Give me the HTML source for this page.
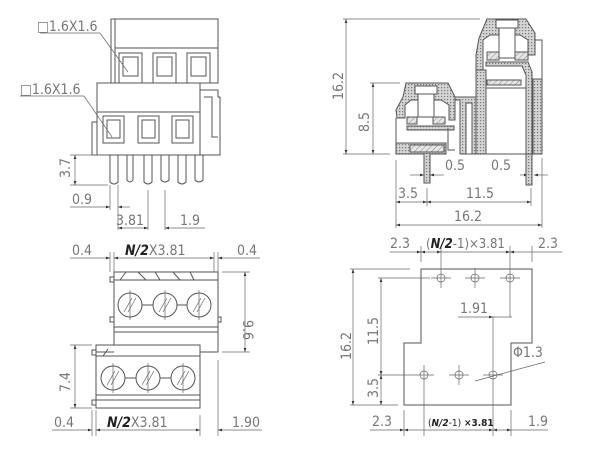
<!DOCTYPE html>
<html><head><meta charset="utf-8"><style>
html,body{margin:0;padding:0;background:#fff}
svg{display:block}
text{font-family:"DejaVu Sans Condensed","Liberation Sans",sans-serif;fill:#777;font-size:14px}
.l{stroke:#555;stroke-width:1;fill:none}
.t{stroke:#666;stroke-width:0.7;fill:none}
</style></head><body>
<svg width="600" height="450" viewBox="0 0 600 450" xmlns="http://www.w3.org/2000/svg">
<defs>
<pattern id="d" width="3" height="3" patternUnits="userSpaceOnUse"><rect width="3" height="3" fill="#d4d4d4"/><rect width="1.2" height="1.2" fill="#777"/></pattern>
<pattern id="h" width="4" height="4" patternUnits="userSpaceOnUse" patternTransform="rotate(45)"><rect width="4" height="4" fill="#e6e6e6"/><line x1="0" y1="0" x2="0" y2="4" stroke="#888" stroke-width="1"/></pattern>
<marker id="a" markerWidth="6" markerHeight="4" refX="6" refY="2" orient="auto-start-reverse"><path d="M0,0L6,2L0,4z" fill="#333"/></marker>
</defs>

<g class="l">
<rect x="111" y="19" width="107" height="64"/>
<line x1="115" y1="19" x2="115" y2="83"/>
<line x1="115" y1="48" x2="218" y2="48"/>
<rect x="119" y="53" width="23" height="30"/><rect x="123" y="57" width="15" height="19"/>
<rect x="153" y="53" width="23" height="30"/><rect x="157" y="57" width="15" height="19"/>
<rect x="187" y="53" width="23" height="30"/><rect x="191" y="57" width="15" height="19"/>
<rect x="97" y="83" width="103" height="72" fill="#fff"/>
<line x1="97" y1="112" x2="200" y2="112"/>
<path d="M97,122H92V155H97"/>
<rect x="103" y="116" width="21" height="27"/><rect x="107" y="120" width="13" height="18"/>
<rect x="138" y="116" width="21" height="27"/><rect x="142" y="120" width="13" height="18"/>
<rect x="172" y="116" width="21" height="27"/><rect x="176" y="120" width="13" height="18"/>
<path d="M200,90H218V97H220V155H200"/>
<path d="M204,97H212V137H218"/>
<path d="M110,155V182Q114,186 118,182V155"/><path d="M127,155V180Q130,184 133,180V155"/>
<path d="M144,155V182Q148,186 152,182V155"/><path d="M161,155V180Q165,184 169,180V155"/>
<path d="M178,155V182Q182,186 186,182V155"/><path d="M195,155V180Q199,184 203,180V155"/>
</g>
<g class="t">
<line x1="40" y1="33" x2="100" y2="33"/><line x1="100" y1="33" x2="128" y2="72"/>
<line x1="20" y1="96" x2="84" y2="96"/><line x1="84" y1="96" x2="112" y2="137"/>
<line x1="70" y1="155" x2="108" y2="155"/><line x1="70" y1="185" x2="108" y2="185"/>
<line x1="75" y1="155" x2="75" y2="185" marker-start="url(#a)" marker-end="url(#a)"/>
<line x1="70" y1="207" x2="110" y2="207" marker-end="url(#a)"/><line x1="118" y1="207" x2="130" y2="207" marker-start="url(#a)"/>
<line x1="110" y1="185" x2="110" y2="210"/><line x1="118" y1="185" x2="118" y2="230"/>
<line x1="148" y1="190" x2="148" y2="230"/><line x1="165" y1="190" x2="165" y2="230"/>
<line x1="118" y1="228" x2="148" y2="228" marker-start="url(#a)" marker-end="url(#a)"/>
<line x1="165" y1="228" x2="205" y2="228" marker-start="url(#a)"/>
</g>
<text x="37" y="31">□1.6X1.6</text>
<text x="20" y="94">□1.6X1.6</text>
<text x="0" y="0" transform="translate(70,178) rotate(-90)">3.7</text>
<text x="72" y="204">0.9</text>
<text x="116" y="225">3.81</text>
<text x="180" y="225">1.9</text>

<g class="t">
<line x1="343" y1="19" x2="480" y2="19"/><line x1="343" y1="154" x2="390" y2="154"/>
<line x1="370" y1="83" x2="400" y2="83"/>
<line x1="346" y1="19" x2="346" y2="154" marker-start="url(#a)" marker-end="url(#a)"/>
<line x1="373" y1="83" x2="373" y2="154" marker-start="url(#a)" marker-end="url(#a)"/>
<line x1="396" y1="160" x2="396" y2="228"/><line x1="427" y1="188" x2="427" y2="206"/>
<line x1="531" y1="188" x2="531" y2="206"/><line x1="542" y1="158" x2="542" y2="228"/>
<line x1="410" y1="175" x2="424" y2="175" marker-end="url(#a)"/><line x1="430" y1="175" x2="444" y2="175" marker-start="url(#a)"/>
<line x1="520" y1="175" x2="528" y2="175" marker-end="url(#a)"/><line x1="534" y1="175" x2="548" y2="175" marker-start="url(#a)"/>
<line x1="396" y1="202" x2="427" y2="202" marker-start="url(#a)" marker-end="url(#a)"/>
<line x1="427" y1="202" x2="531" y2="202" marker-start="url(#a)" marker-end="url(#a)"/>
<line x1="396" y1="225" x2="542" y2="225" marker-start="url(#a)" marker-end="url(#a)"/>
</g>
<g class="l">
<path d="M406,83H448L455,97V120H449V105L441,100H411L405,105V118H397L396,110L403,97Z" fill="url(#d)"/>
<rect x="415" y="86" width="22" height="8" fill="#fff"/>
<rect x="418" y="94" width="16" height="23" fill="#fff"/>
<rect x="407" y="117" width="10" height="7" fill="url(#h)"/><rect x="433" y="117" width="12" height="7" fill="url(#h)"/>
<rect x="407" y="126" width="47" height="4" fill="url(#d)"/>
<rect x="396" y="143" width="50" height="11" fill="url(#d)"/><rect x="410" y="145" width="34" height="7" fill="url(#h)"/>
<line x1="396" y1="118" x2="396" y2="154"/>
<path d="M424,154V183H430V154" fill="url(#d)"/>
<path d="M448,128V150H455" />
<path d="M455,97H478V154H460V100H455Z" fill="url(#d)"/>
<rect x="466" y="103" width="6" height="51" fill="#fff"/>
<path d="M487,19H526L535,33V55H528V40L520,35H490L483,40V70H476V55L479,38Z" fill="url(#d)"/>
<rect x="496" y="20" width="22" height="8" fill="#fff"/>
<rect x="499" y="28" width="16" height="30" fill="#fff"/>
<rect x="487" y="52" width="12" height="8" fill="url(#h)"/><rect x="515" y="52" width="13" height="8" fill="url(#h)"/>
<path d="M486,62H528L532,72V185H526V75L522,66H486Z" fill="url(#d)"/>
<rect x="487" y="80" width="34" height="5" fill="url(#h)"/>
<path d="M476,70H486V154H476Z" fill="url(#d)"/>
<rect x="533" y="79" width="9" height="75" fill="url(#d)"/>
<path d="M535,40H542V79"/>
<line x1="476" y1="154" x2="542" y2="154"/>
<line x1="486" y1="88" x2="526" y2="88"/>
</g>
<text x="0" y="0" transform="translate(343,100) rotate(-90)">16.2</text>
<text x="0" y="0" transform="translate(369,132) rotate(-90)">8.5</text>
<text x="445" y="170">0.5</text>
<text x="491" y="170">0.5</text>
<text x="398" y="198">3.5</text>
<text x="466" y="198">11.5</text>
<text x="454" y="221">16.2</text>

<g class="t">
<line x1="70" y1="258" x2="110" y2="258" marker-end="url(#a)"/>
<line x1="114" y1="258" x2="214" y2="258" marker-start="url(#a)" marker-end="url(#a)"/>
<line x1="218" y1="258" x2="260" y2="258" marker-start="url(#a)"/>
<line x1="110" y1="252" x2="110" y2="272"/><line x1="114" y1="252" x2="114" y2="272"/>
<line x1="214" y1="252" x2="214" y2="272"/><line x1="218" y1="252" x2="218" y2="352"/>
<line x1="222" y1="272" x2="250" y2="272"/><line x1="222" y1="352" x2="250" y2="352"/>
<line x1="245" y1="272" x2="245" y2="352" marker-start="url(#a)" marker-end="url(#a)"/>
<line x1="70" y1="345" x2="92" y2="345"/><line x1="70" y1="408" x2="92" y2="408"/>
<line x1="75" y1="345" x2="75" y2="408" marker-start="url(#a)" marker-end="url(#a)"/>
<line x1="52" y1="430" x2="92" y2="430" marker-end="url(#a)"/>
<line x1="96" y1="430" x2="200" y2="430" marker-start="url(#a)" marker-end="url(#a)"/>
<line x1="218" y1="430" x2="262" y2="430" marker-start="url(#a)"/>
<line x1="92" y1="410" x2="92" y2="436"/><line x1="96" y1="410" x2="96" y2="436"/>
<line x1="200" y1="415" x2="200" y2="436"/><line x1="218" y1="360" x2="218" y2="436"/>
</g>
<g class="l">
<rect x="114" y="272" width="104" height="80" fill="#fff"/>
<line x1="114" y1="280" x2="218" y2="280"/>
<path d="M120,280L126,272M138,272L146,280M155,272L160,280M173,272L180,280M190,272L194,280"/>
<line x1="114" y1="327" x2="218" y2="327"/><line x1="114" y1="332" x2="218" y2="332"/>
<rect x="110" y="277" width="4" height="5"/><rect x="110" y="317" width="4" height="5"/>
<rect x="218" y="317" width="3" height="5"/>
<circle cx="130" cy="305" r="12"/><circle cx="165" cy="305" r="12"/><circle cx="199" cy="305" r="12"/>
<line x1="142" y1="305" x2="153" y2="305"/><line x1="177" y1="305" x2="187" y2="305"/>
<rect x="96" y="345" width="104" height="63" fill="#fff"/>
<line x1="96" y1="352" x2="114" y2="352"/><line x1="96" y1="356" x2="200" y2="356"/>
<line x1="96" y1="395" x2="200" y2="395"/><line x1="96" y1="400" x2="200" y2="400"/>
<path d="M103,356L108,349"/>
<rect x="92" y="350" width="4" height="5"/><rect x="92" y="400" width="4" height="5"/>
<circle cx="113" cy="378" r="12"/><circle cx="148" cy="378" r="12"/><circle cx="183" cy="378" r="12"/>
<line x1="125" y1="378" x2="136" y2="378"/><line x1="160" y1="378" x2="171" y2="378"/>
</g>
<g class="t">
<path d="M124,312L132,298M128,312L136,298M159,312L167,298M163,312L171,298M193,312L201,298M197,312L205,298"/>
<path d="M107,385L115,371M111,385L119,371M142,385L150,371M146,385L154,371M177,385L185,371M181,385L189,371"/>
<path d="M130,290V320M165,290V320M199,290V320M113,363V393M148,363V393M183,363V393"/>
</g>
<text x="72" y="255">0.4</text>
<text x="125" y="255"><tspan font-weight="bold" font-style="italic" fill="#222">N/2</tspan>X3.81</text>
<text x="237" y="255">0.4</text>
<text x="0" y="0" transform="translate(243,320) rotate(90)">9.6</text>
<text x="0" y="0" transform="translate(70,392) rotate(-90)">7.4</text>
<text x="54" y="427">0.4</text>
<text x="107" y="427"><tspan font-weight="bold" font-style="italic" fill="#222">N/2</tspan>X3.81</text>
<text x="232" y="427">1.90</text>

<g class="l">
<path d="M421,269H532V343H511V405H404V343H421Z"/>
</g>
<g class="t">
<circle cx="441" cy="278" r="4"/><circle cx="475" cy="278" r="4"/><circle cx="510" cy="278" r="4"/>
<circle cx="424" cy="375" r="4"/><circle cx="459" cy="375" r="4"/><circle cx="493" cy="375" r="4"/>
<path d="M431,278H451M441,268V288M465,278H485M475,268V288M500,278H520M510,268V288"/>
<path d="M414,375H434M424,365V385M449,375H469M459,365V385M483,375H503M493,365V385"/>
<line x1="350" y1="269" x2="410" y2="269"/><line x1="350" y1="405" x2="398" y2="405"/>
<line x1="353" y1="269" x2="353" y2="405" marker-start="url(#a)" marker-end="url(#a)"/>
<line x1="378" y1="278" x2="430" y2="278"/><line x1="378" y1="375" x2="414" y2="375"/>
<line x1="381" y1="278" x2="381" y2="375" marker-start="url(#a)" marker-end="url(#a)"/>
<line x1="381" y1="375" x2="381" y2="405" marker-start="url(#a)" marker-end="url(#a)"/>
<line x1="390" y1="252" x2="421" y2="252" marker-end="url(#a)"/>
<line x1="421" y1="252" x2="441" y2="252" marker-start="url(#a)" marker-end="url(#a)"/>
<line x1="441" y1="252" x2="510" y2="252" marker-end="url(#a)"/>
<line x1="510" y1="252" x2="532" y2="252" marker-start="url(#a)"/>
<line x1="532" y1="252" x2="562" y2="252"/>
<line x1="421" y1="246" x2="421" y2="262"/><line x1="441" y1="246" x2="441" y2="268"/>
<line x1="510" y1="246" x2="510" y2="268"/><line x1="532" y1="246" x2="532" y2="262"/>
<line x1="458" y1="317" x2="493" y2="317" marker-end="url(#a)"/><line x1="493" y1="317" x2="512" y2="317"/>
<line x1="493" y1="317" x2="493" y2="365"/><line x1="510" y1="288" x2="510" y2="317"/>
<line x1="475" y1="381" x2="545" y2="362"/>
<line x1="370" y1="430" x2="404" y2="430" marker-end="url(#a)"/>
<line x1="404" y1="430" x2="424" y2="430" marker-start="url(#a)"/>
<line x1="424" y1="430" x2="493" y2="430" marker-end="url(#a)"/>
<line x1="493" y1="430" x2="511" y2="430" marker-start="url(#a)" marker-end="url(#a)"/>
<line x1="511" y1="430" x2="548" y2="430"/>
<line x1="404" y1="410" x2="404" y2="436"/><line x1="424" y1="385" x2="424" y2="436"/>
<line x1="493" y1="385" x2="493" y2="436"/><line x1="511" y1="410" x2="511" y2="436"/>
</g>
<text x="390" y="248">2.3</text>
<text x="426" y="248" style="font-size:13px">(<tspan font-weight="bold" font-style="italic" style="fill:#222">N/2</tspan>-1)×3.81</text>
<text x="538" y="248">2.3</text>
<text x="460" y="313">1.91</text>
<text x="513" y="357">Φ1.3</text>
<text x="0" y="0" transform="translate(351,360) rotate(-90)">16.2</text>
<text x="0" y="0" transform="translate(378,345) rotate(-90)">11.5</text>
<text x="0" y="0" transform="translate(378,398) rotate(-90)">3.5</text>
<text x="372" y="426">2.3</text>
<text x="428" y="426" style="font-size:10px;fill:#222">(<tspan font-weight="bold" font-style="italic">N/2</tspan>-1) <tspan font-weight="bold">×3.81</tspan></text>
<text x="528" y="426">1.9</text>
</svg>
</body></html>
